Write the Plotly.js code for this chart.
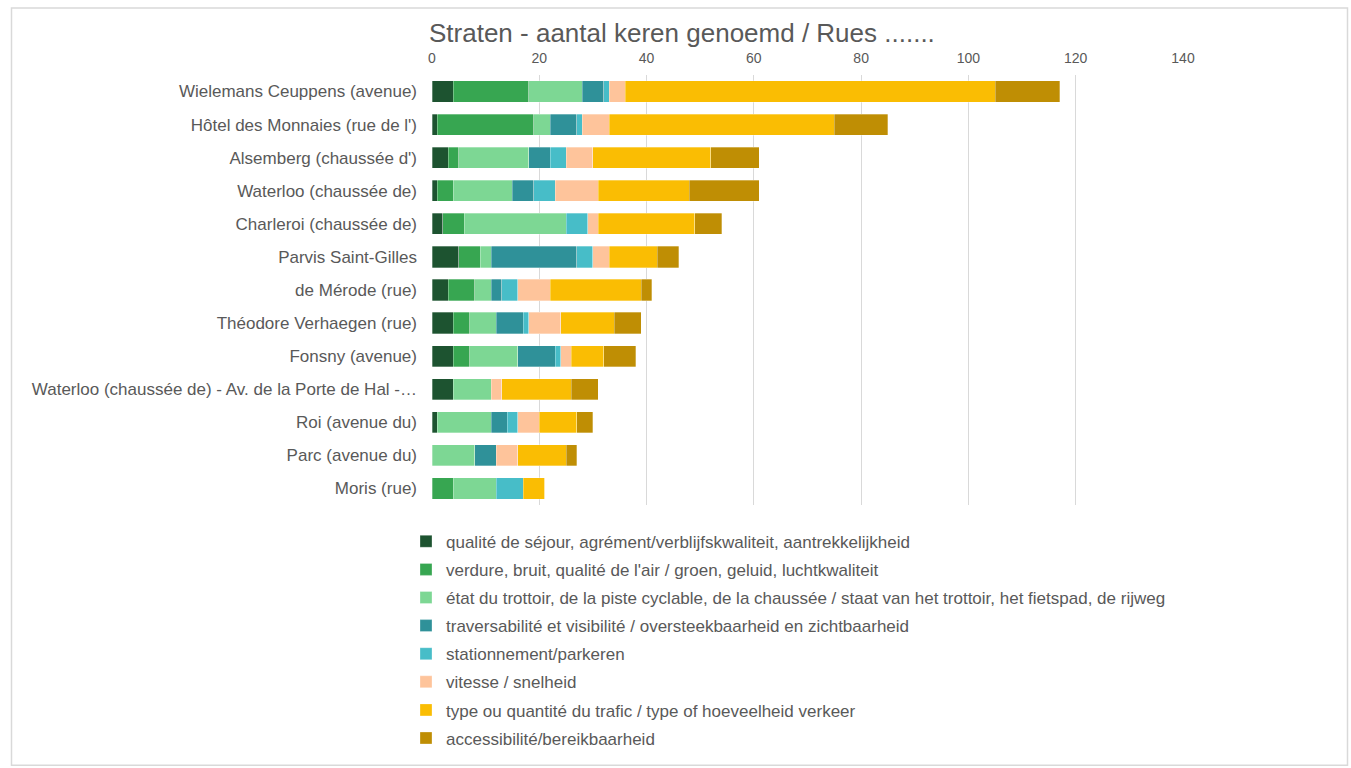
<!DOCTYPE html>
<html>
<head>
<meta charset="utf-8">
<script src="https://cdn.plot.ly/plotly-3.0.1.min.js"></script>
<style>html,body{margin:0;padding:0;background:#fff;}#chart{width:1351px;height:768px;}</style>
</head>
<body>
<div id="chart"></div>
<script>
const streets = [
  "Wielemans Ceuppens (avenue)",
  "Hôtel des Monnaies (rue de l')",
  "Alsemberg (chaussée d')",
  "Waterloo (chaussée de)",
  "Charleroi (chaussée de)",
  "Parvis Saint-Gilles",
  "de Mérode (rue)",
  "Théodore Verhaegen (rue)",
  "Fonsny (avenue)",
  "Waterloo (chaussée de) - Av. de la Porte de Hal -…",
  "Roi (avenue du)",
  "Parc (avenue du)",
  "Moris (rue)"
];
const seriesNames = [
  "qualité de séjour, agrément/verblijfskwaliteit, aantrekkelijkheid",
  "verdure, bruit, qualité de l'air / groen, geluid, luchtkwaliteit",
  "état du trottoir, de la piste cyclable, de la chaussée / staat van het trottoir, het fietspad, de rijweg",
  "traversabilité et visibilité / oversteekbaarheid en zichtbaarheid",
  "stationnement/parkeren",
  "vitesse / snelheid",
  "type ou quantité du trafic / type of hoeveelheid verkeer",
  "accessibilité/bereikbaarheid"
];
const qualite        = [4, 1, 3, 1, 2, 5, 3, 4, 4, 4, 1, 0, 0];
const verdure        = [14, 18, 2, 3, 4, 4, 5, 3, 3, 0, 0, 0, 4];
const etat           = [10, 3, 13, 11, 19, 2, 3, 5, 9, 7, 10, 8, 8];
const traversabilite = [4, 5, 4, 4, 0, 16, 2, 5, 7, 0, 3, 4, 0];
const stationnement  = [1, 1, 3, 4, 4, 3, 3, 1, 1, 0, 2, 0, 5];
const vitesse        = [3, 5, 5, 8, 2, 3, 6, 6, 2, 2, 4, 4, 0];
const trafic         = [69, 42, 22, 17, 18, 9, 17, 10, 6, 13, 7, 9, 4];
const accessibilite  = [12, 10, 9, 13, 5, 4, 2, 5, 6, 5, 3, 2, 0];
const xTicks = [0, 20, 40, 60, 80, 100, 120, 140];

const seriesValues = [qualite, verdure, etat, traversabilite, stationnement, vitesse, trafic, accessibilite];
const colors = ["#1d5330", "#37a651", "#7dd794", "#2f9199", "#47bdc8", "#fec49b", "#fabd03", "#bf8e04"];

const traces = seriesValues.map((vals, i) => ({
  type: "bar",
  orientation: "h",
  name: seriesNames[i],
  legendgroup: "g" + i,
  x: vals,
  y: streets,
  marker: {color: colors[i], line: {color: "rgba(255,255,255,0.5)", width: 0.6}},
  hoverinfo: "x+name"
}));

const L = 432, R = 1183, T = 75, B = 511;
const W = R - L, H = B - T;

const layout = {
  width: 1351, height: 768,
  margin: {l: L, r: 1351 - R, t: T, b: 768 - B},
  barmode: "stack",
  bargap: 0.36,
  paper_bgcolor: "#ffffff",
  plot_bgcolor: "#ffffff",
  font: {family: "Liberation Sans, Arial, sans-serif", color: "#595959", size: 17},
  title: {
    text: "Straten - aantal keren genoemd / Rues .......",
    font: {size: 26, color: "#595959", family: "Liberation Sans, Arial, sans-serif"},
    x: 429 / 1351, xanchor: "left", xref: "container",
    y: 1 - 33 / 768, yanchor: "middle", yref: "container"
  },
  xaxis: {
    side: "top",
    range: [0, 140],
    tickvals: xTicks,
    ticktext: xTicks.map(String),
    showgrid: true,
    gridcolor: "#d9d9d9",
    gridwidth: 1,
    zeroline: false,
    showline: false,
    ticks: "",
    ticklabelstandoff: 8,
    tickfont: {size: 14, color: "#595959"},
    fixedrange: true
  },
  yaxis: {
    type: "category",
    autorange: "reversed",
    showgrid: false,
    zeroline: false,
    showline: false,
    ticks: "",
    ticklabelstandoff: 14,
    tickfont: {size: 17, color: "#595959"},
    fixedrange: true
  },
  showlegend: true,
  legend: {
    orientation: "v",
    traceorder: "grouped",
    tracegroupgap: 3,
    x: (406 - L) / W, xanchor: "left",
    y: (B - 530) / H, yanchor: "top",
    font: {size: 17, color: "#595959"},
    bgcolor: "rgba(0,0,0,0)"
  },
  shapes: [{
    type: "rect", xref: "paper", yref: "paper",
    x0: (11.5 - L) / W, x1: (1347.5 - L) / W,
    y0: (B - 775) / H, y1: (B - 7) / H,
    line: {color: "#d9d9d9", width: 1.5},
    fillcolor: "rgba(0,0,0,0)",
    layer: "below"
  }]
};

Plotly.newPlot("chart", traces, layout, {displayModeBar: false, staticPlot: true});
</script>
</body>
</html>
